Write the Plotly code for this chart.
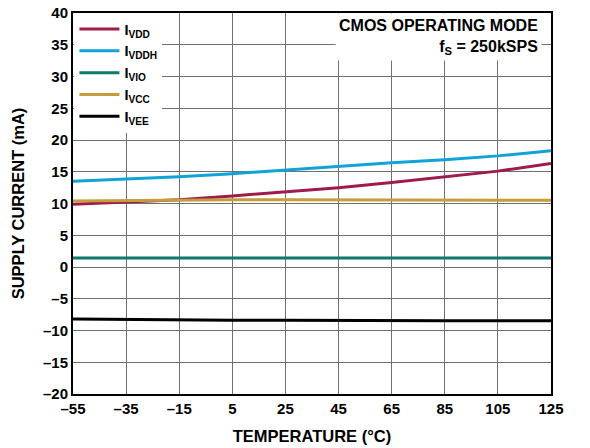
import plotly.graph_objects as go

temp = [-55, -35, -15, 5, 25, 45, 65, 85, 105, 125]

i_vdd = [9.9, 10.2, 10.6, 11.2, 11.8, 12.5, 13.3, 14.2, 15.1, 16.3]
i_vddh = [13.5, 13.8, 14.2, 14.7, 15.3, 15.9, 16.4, 16.9, 17.5, 18.3]
i_vio = [1.4, 1.4, 1.4, 1.4, 1.4, 1.4, 1.4, 1.4, 1.4, 1.4]
i_vcc = [10.4, 10.5, 10.5, 10.6, 10.6, 10.6, 10.6, 10.6, 10.5, 10.5]
i_vee = [-8.2, -8.3, -8.35, -8.4, -8.4, -8.45, -8.45, -8.45, -8.45, -8.45]

x_ticks = [-55, -35, -15, 5, 25, 45, 65, 85, 105, 125]
x_ticktext = ['–55', '–35', '–15', '5', '25', '45', '65', '85', '105', '125']
y_ticks = [-20, -15, -10, -5, 0, 5, 10, 15, 20, 25, 30, 35, 40]
y_ticktext = ['–20', '–15', '–10', '–5', '0', '5', '10', '15', '20', '25', '30', '35', '40']

series = [
    ('I<sub>VDD</sub>', i_vdd, '#9e1b4b'),
    ('I<sub>VDDH</sub>', i_vddh, '#12a2da'),
    ('I<sub>VIO</sub>', i_vio, '#0b7a6c'),
    ('I<sub>VCC</sub>', i_vcc, '#c69c3c'),
    ('I<sub>VEE</sub>', i_vee, '#000000'),
]

fam = 'Arial, Liberation Sans, sans-serif'
fnt = dict(family=fam, size=15, color='black')
title_fnt = dict(family=fam, size=16.5, color='black')

fig = go.Figure()
for name, vals, col in series:
    fig.add_trace(go.Scatter(x=temp, y=vals, name='<b>' + name + '</b>', mode='lines',
                             line=dict(color=col, width=3)))

# title box top right
fig.add_annotation(
    xref='paper', yref='paper', x=0.982, y=1.0, xanchor='right', yanchor='top',
    text='<b>CMOS OPERATING MODE</b><br><b>f<sub>S</sub> = 250kSPS</b>', align='right',
    showarrow=False, bgcolor='white', borderpad=3, font=dict(family=fam, size=16, color='black'))

fig.add_annotation(
    xref='paper', yref='paper', x=1.076, y=-0.09, xanchor='center', yanchor='middle',
    text='106', textangle=90, showarrow=False,
    font=dict(family=fam, size=8, color='#555555'))

grid = dict(showgrid=True, gridcolor='#707070', gridwidth=1.3,
            showline=True, linecolor='black', linewidth=2, mirror=True,
            ticks='', zeroline=False, tickfont=fnt, ticklabeloverflow='allow')

# page has an 8px body margin, so the figure is 8px smaller
fig.update_layout(
    template='simple_white',
    width=582, height=440, autosize=False,
    margin=dict(l=65, r=39, t=5, b=54, autoexpand=False),
    paper_bgcolor='white', plot_bgcolor='white',
    font=fnt,
    xaxis=dict(range=[-55, 125], tickvals=x_ticks, ticktext=['<b>' + t + '</b>' for t in x_ticktext],
               title=dict(text='<b>TEMPERATURE (°C)</b>', font=title_fnt, standoff=14), **grid),
    yaxis=dict(range=[-20, 40], tickvals=y_ticks, ticktext=['<b>' + t + '</b>' for t in y_ticktext],
               title=dict(text='<b>SUPPLY CURRENT (mA)</b>', font=title_fnt, standoff=14), **grid),
    legend=dict(x=0.003, y=1.0, xanchor='left', yanchor='top',
                bgcolor='white', borderwidth=0, font=dict(family=fam, size=14.5, color='black'),
                itemwidth=40, tracegroupgap=0),
)

fig.write_html("out.html")
